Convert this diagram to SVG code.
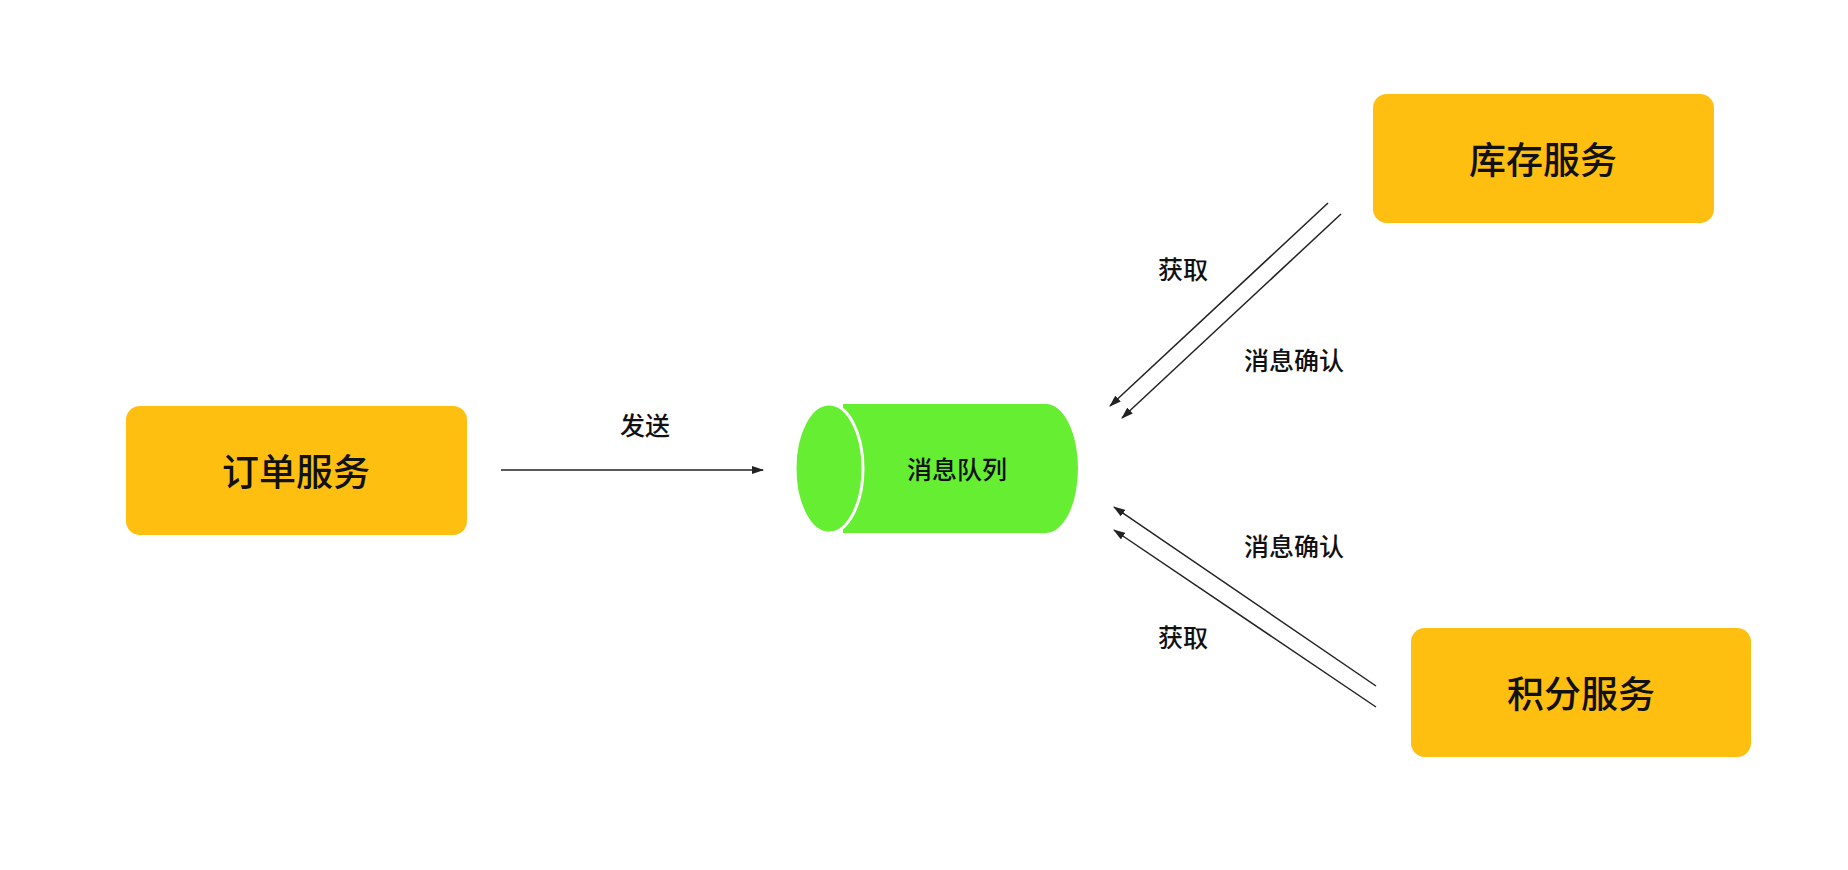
<svg xmlns="http://www.w3.org/2000/svg" width="1848" height="870" viewBox="0 0 1848 870">
<style>
.box{fill:#FEBF10}
.bt{font-family:"Noto Sans CJK SC",sans-serif;font-size:37px;font-weight:500;fill:#111;text-anchor:middle;dominant-baseline:central}
.lt{font-family:"Noto Sans CJK SC",sans-serif;font-size:25px;font-weight:500;fill:#111;text-anchor:middle;dominant-baseline:central}
.ln{stroke:#222;stroke-width:1.5;fill:none;marker-end:url(#ah)}
</style>
<defs><marker id="ah" markerWidth="12" markerHeight="8" refX="11" refY="4" orient="auto" markerUnits="userSpaceOnUse"><path d="M0,0 L12,4 L0,8 Z" fill="#222"/></marker></defs>
<rect width="1848" height="870" fill="#fff"/>
<g id="order"><rect class="box" x="126" y="406" width="341" height="129" rx="14"/><text class="bt" x="296" y="470">订单服务</text></g>
<g id="stock"><rect class="box" x="1373" y="94" width="341" height="129" rx="14"/><text class="bt" x="1543" y="158">库存服务</text></g>
<g id="points"><rect class="box" x="1411" y="628" width="340" height="129" rx="14"/><text class="bt" x="1581" y="692">积分服务</text></g>
<g id="mq">
<path d="M843,404 H1046 A32,64.5 0 0 1 1046,533 H843 Z" fill="#66EE33"/>
<ellipse cx="829" cy="468.5" rx="34" ry="64.5" fill="#66EE33" stroke="#fff" stroke-width="3"/>
<text class="lt" x="957" y="468">消息队列</text>
</g>
<g id="connectors">
<line class="ln" x1="501" y1="470" x2="763" y2="470"/>
<line class="ln" x1="1328" y1="203" x2="1110" y2="406"/>
<line class="ln" x1="1341" y1="214" x2="1122" y2="418"/>
<line class="ln" x1="1376" y1="686" x2="1114" y2="507"/>
<line class="ln" x1="1376" y1="707" x2="1114" y2="530"/>
<text class="lt" x="645" y="424">发送</text>
<text class="lt" x="1183" y="268">获取</text>
<text class="lt" x="1294" y="359">消息确认</text>
<text class="lt" x="1294" y="545">消息确认</text>
<text class="lt" x="1183" y="636">获取</text>
</g>
</svg>
